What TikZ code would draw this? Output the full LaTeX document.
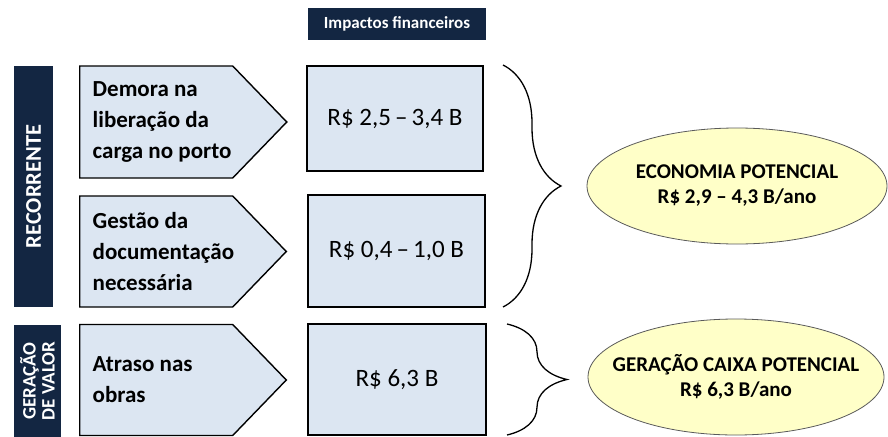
\documentclass[tikz,border=0pt]{standalone}
\usepackage{fontspec}
\setmainfont{Carlito}
\usepackage{tikz}
\usetikzlibrary{shapes.geometric, shapes.symbols, decorations.pathreplacing, calc}
\definecolor{navyblue}{RGB}{19,38,66}
\definecolor{paleblue}{RGB}{220,230,242}
\definecolor{paleyellow}{RGB}{255,255,200}
\definecolor{ovalgray}{RGB}{90,90,90}

\begin{document}
\begin{tikzpicture}[x=1pt, y=-1pt,
    tag/.style={rectangle, fill=navyblue, text=white, font=\bfseries#1, inner sep=0pt, align=center},
    cause/.style={signal, signal to=east, signal pointer angle=92, draw=black, line width=1.4pt,
                  fill=paleblue, anchor=west, minimum height=#1, inner xsep=13pt, inner ysep=0pt,
                  text width=127pt, align=flush left,
                  font=\fontsize{23}{31}\selectfont\bfseries},
    impact/.style={rectangle, draw=black, line width=1.4pt, fill=paleblue, minimum width=176pt,
                   minimum height=#1, font=\fontsize{25}{30}\selectfont},
    gain/.style={ellipse, draw=ovalgray, line width=0.8pt, fill=paleyellow, minimum width=300pt,
                 minimum height=116pt, inner xsep=-20pt, inner ysep=0pt, align=center,
                 font=\fontsize{21}{25}\selectfont\bfseries}
]
    \useasboundingbox (0,0) rectangle (888,436);

    % Header
    \node[tag=\fontsize{17}{20}\selectfont, minimum width=178pt, minimum height=32pt] (head) at (397,24)
        {Impactos financeiros};

    % Row labels
    \node[tag=\fontsize{22.5}{26}\selectfont, minimum width=241pt, minimum height=39pt, rotate=90]
        (recur) at (33.5,186.5) {RECORRENTE};
    \node[tag=\fontsize{19}{19}\selectfont, minimum width=112pt, minimum height=47pt, rotate=90]
        (value) at (37.5,381) {GERAÇÃO\\DE VALOR};

    % Causes
    \node[cause=112pt] (c1) at (79,122) {\mbox{Demora na}\\\mbox{liberação da}\\\mbox{carga no porto}};
    \node[cause=111pt] (c2) at (79,251.5) {\mbox{Gestão da}\\\mbox{documentação}\\\mbox{necessária}};
    \node[cause=111pt] (c3) at (79,380) {\mbox{Atraso nas}\\\mbox{obras}};

    % Impacts
    \node[impact=105pt] (v1) at (395,118.5) {R\$ 2,5\,--\,3,4 B};
    \node[impact=112pt, minimum width=177pt] (v2) at (396.5,251) {R\$ 0,4\,--\,1,0 B};
    \node[impact=111pt, minimum width=178pt] (v3) at (397,379.5) {R\$ 6,3 B};

    % Braces
    \coordinate (b1a) at (503,65);
    \coordinate (b1b) at (503,307);
    \coordinate (b2a) at (507,324);
    \coordinate (b2b) at (507,435);
    \draw[line width=1.3pt, decorate, decoration={brace, amplitude=58pt}] (b1a) -- (b1b);
    \draw[line width=1.3pt, decorate, decoration={brace, amplitude=60pt}] (b2a) -- (b2b);

    % Potential
    \node[gain] (e1) at (737,186) {ECONOMIA POTENCIAL\\R\$ 2,9 -- 4,3 B/ano};
    \node[gain, minimum width=296pt] (e2) at (736,377) {GERAÇÃO CAIXA POTENCIAL\\R\$ 6,3 B/ano};
\end{tikzpicture}
\end{document}
